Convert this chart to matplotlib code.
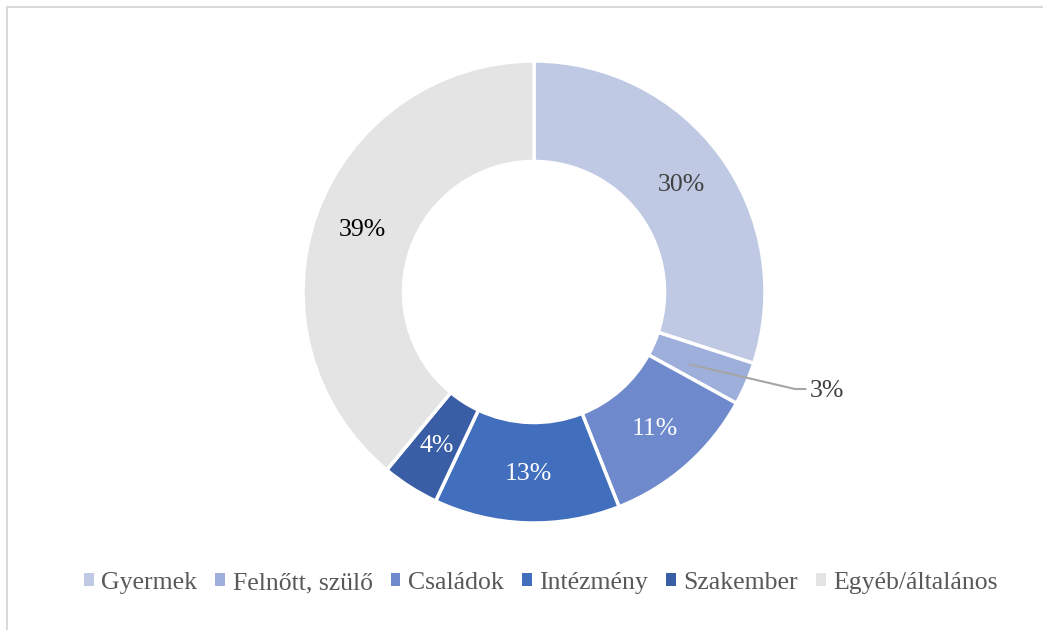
import matplotlib.pyplot as plt
from matplotlib.lines import Line2D
from matplotlib.patches import Patch
import numpy as np

categories = ['Gyermek', 'Felnőtt, szülő', 'Családok', 'Intézmény', 'Szakember', 'Egyéb/általános']
values = [30, 3, 11, 13, 4, 39]
colors = ['#BFC9E4', '#9EAFDB', '#6E89CC', '#416EBD', '#3A5EA6', '#E4E4E4']
label_colors = ['#404040', '#404040', 'white', 'white', 'white', 'black']

plt.rcParams['font.family'] = ['Liberation Serif', 'DejaVu Serif']

fig = plt.figure(figsize=(10.43, 6.3), dpi=100)
ax = fig.add_axes([0, 0, 1, 1])
ax.set_xlim(0, 1043)
ax.set_ylim(630, 0)
ax.axis('off')

# frame (only left and top visible)
ax.add_line(Line2D([7, 7], [7, 630], color='#D9D9D9', lw=1.5))
ax.add_line(Line2D([7, 1043], [7, 7], color='#D9D9D9', lw=1.5))

pie_ax = fig.add_axes([(534 - 231) / 1043, 1 - (292 + 231) / 630, 462 / 1043, 462 / 630])
wedges, _ = pie_ax.pie(values, colors=colors, startangle=90, counterclock=False,
                       radius=1.0, wedgeprops=dict(width=0.435, edgecolor='white', linewidth=2.5))
pie_ax.set_aspect('equal')
pie_ax.set_xlim(-1, 1)
pie_ax.set_ylim(-1, 1)
pie_ax.axis('off')

for i, w in enumerate(wedges):
    ang = np.deg2rad((w.theta1 + w.theta2) / 2)
    r = 0.79
    x, y = r * np.cos(ang), r * np.sin(ang)
    txt = f'{values[i]}%'
    if values[i] == 3:
        pie_ax.plot([x - 0.05, 1.13, 1.175], [y, -0.42, -0.42], color='#A6A6A6', lw=1.5,
                    clip_on=False)
        pie_ax.text(1.195, -0.43, txt, ha='left', va='center', fontsize=18.5, color='#404040')
    else:
        pie_ax.text(x, y, txt, ha='center', va='center', fontsize=18.5, color=label_colors[i])

handles = [Patch(facecolor=c, edgecolor='none') for c in colors]
fig.legend(handles, categories, loc='center', bbox_to_anchor=(541 / 1043, 1 - 583 / 630), ncol=6,
           frameon=False, fontsize=18.5, labelcolor='#595959', handlelength=0.38, handleheight=0.38,
           handletextpad=0.3, columnspacing=0.7)

fig.savefig('out.png', dpi=100)
